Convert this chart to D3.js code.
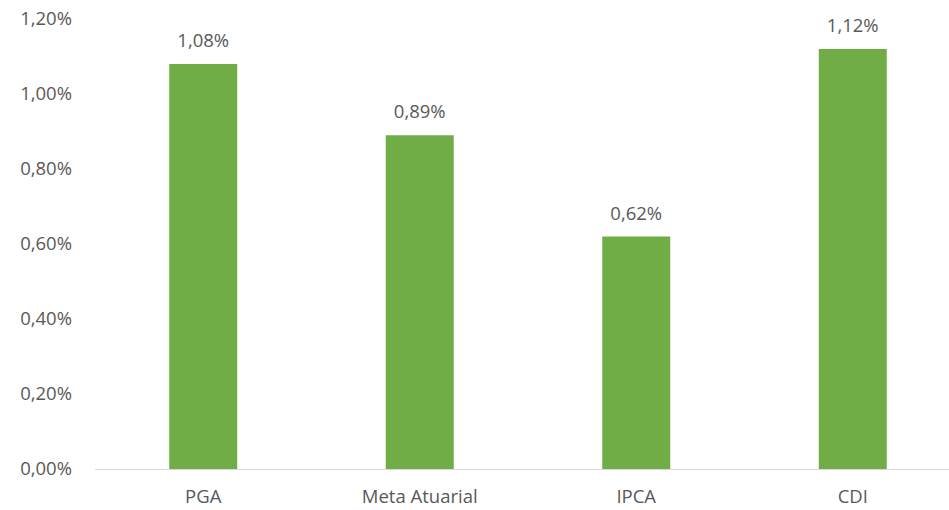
<!DOCTYPE html>
<html><head><meta charset="utf-8">
<script src="https://cdn.jsdelivr.net/npm/d3@7"></script>
<style>body{margin:0;background:#fff}svg{display:block}text{font-family:"Open Sans","Liberation Sans",sans-serif;fill:#595959}</style>
</head><body><svg id="c" width="949" height="510"></svg>
<script>
const categories = ["PGA", "Meta Atuarial", "IPCA", "CDI"];
const values = [1.08, 0.89, 0.62, 1.12];
const yTicks = [0, 0.2, 0.4, 0.6, 0.8, 1.0, 1.2];

const svg = d3.select("#c");
const x = d3.scaleBand().domain(categories).range([95, 961]).paddingInner(0.686).paddingOuter(0.343);
const y = d3.scaleLinear().domain([0, 1.2]).range([469, 19]);
const fmt = v => v.toFixed(2).replace(".", ",") + "%";
const fs = 18.5;

svg.append("g").selectAll("text").data(yTicks).join("text")
  .attr("x", 72).attr("y", d => y(d)).attr("dy", "0.35em")
  .attr("text-anchor", "end").attr("font-size", fs).text(fmt);

svg.append("line").attr("x1", 95).attr("x2", 949).attr("y1", y(0) + 0.5).attr("y2", y(0) + 0.5)
  .attr("stroke", "#d9d9d9").attr("stroke-width", 1);

svg.append("g").selectAll("rect").data(values).join("rect")
  .attr("x", (d, i) => x(categories[i])).attr("width", x.bandwidth())
  .attr("y", d => y(d)).attr("height", d => y(0) - y(d)).attr("fill", "#70ad47");

svg.append("g").selectAll("text").data(values).join("text")
  .attr("x", (d, i) => x(categories[i]) + x.bandwidth() / 2).attr("y", d => y(d) - 17)
  .attr("text-anchor", "middle").attr("font-size", fs).text(fmt);

svg.append("g").selectAll("text").data(categories).join("text")
  .attr("x", d => x(d) + x.bandwidth() / 2).attr("y", 497).attr("dy", "0.35em")
  .attr("text-anchor", "middle").attr("font-size", fs).text(d => d);
</script></body></html>
